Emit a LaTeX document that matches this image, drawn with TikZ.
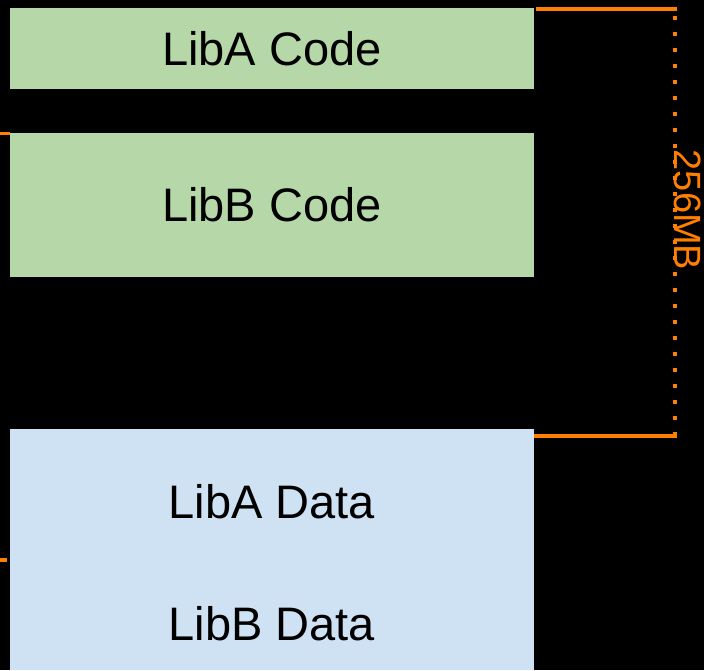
\documentclass[tikz,border=0pt]{standalone}
\usepackage{fontspec}
\setmainfont{Liberation Sans}
\definecolor{codegreen}{HTML}{B6D7A8}
\definecolor{datablue}{HTML}{CFE2F3}
\definecolor{sizeorange}{HTML}{FF7F00}
\begin{document}
\begin{tikzpicture}[x=1pt,y=-1pt,
  region/.style={draw=none,inner sep=0pt,outer sep=0pt,minimum width=524pt,anchor=north west,
    font=\fontsize{47}{52}\selectfont},
  label/.style={font=\fontsize{47}{52}\selectfont},
  marker/.style={draw=sizeorange,line width=3.5pt},
  span/.style={draw=sizeorange,line width=4pt,dash pattern=on 4pt off 12pt}]
  \fill[black] (0,0) rectangle (704,670);
  \useasboundingbox (0,0) rectangle (704,670);
  % memory regions
  \node[region,fill=codegreen,minimum height=81pt] (libacode) at (10,8) {LibA Code};
  \node[region,fill=codegreen,minimum height=144pt] (libbcode) at (10,133) {LibB Code};
  \node[region,fill=datablue,minimum height=241pt] (data) at (10,429) {};
  \node[label] (libadata) at (272,502) {LibA Data};
  \node[label] (libbdata) at (272,624) {LibB Data};
  % size bracket
  \coordinate (topend) at (677,9);
  \coordinate (botend) at (677,436);
  \coordinate (dottop) at (674.5,16);
  \coordinate (dotbot) at (674.5,434);
  \draw[marker] (536,9) -- (topend);
  \draw[marker] (534,436) -- (botend);
  \draw[span] (dottop) -- (dotbot);
  \node[text=sizeorange,rotate=-90,font=\fontsize{38}{40}\selectfont,inner sep=0pt] (size) at (688,210) {256MB};
  % left edge markers
  \coordinate (stubA) at (0,133.5);
  \coordinate (stubB) at (0,560);
  \draw[marker] (stubA) -- (10,133.5);
  \draw[marker] (stubB) -- (7,560);
\end{tikzpicture}
\end{document}
